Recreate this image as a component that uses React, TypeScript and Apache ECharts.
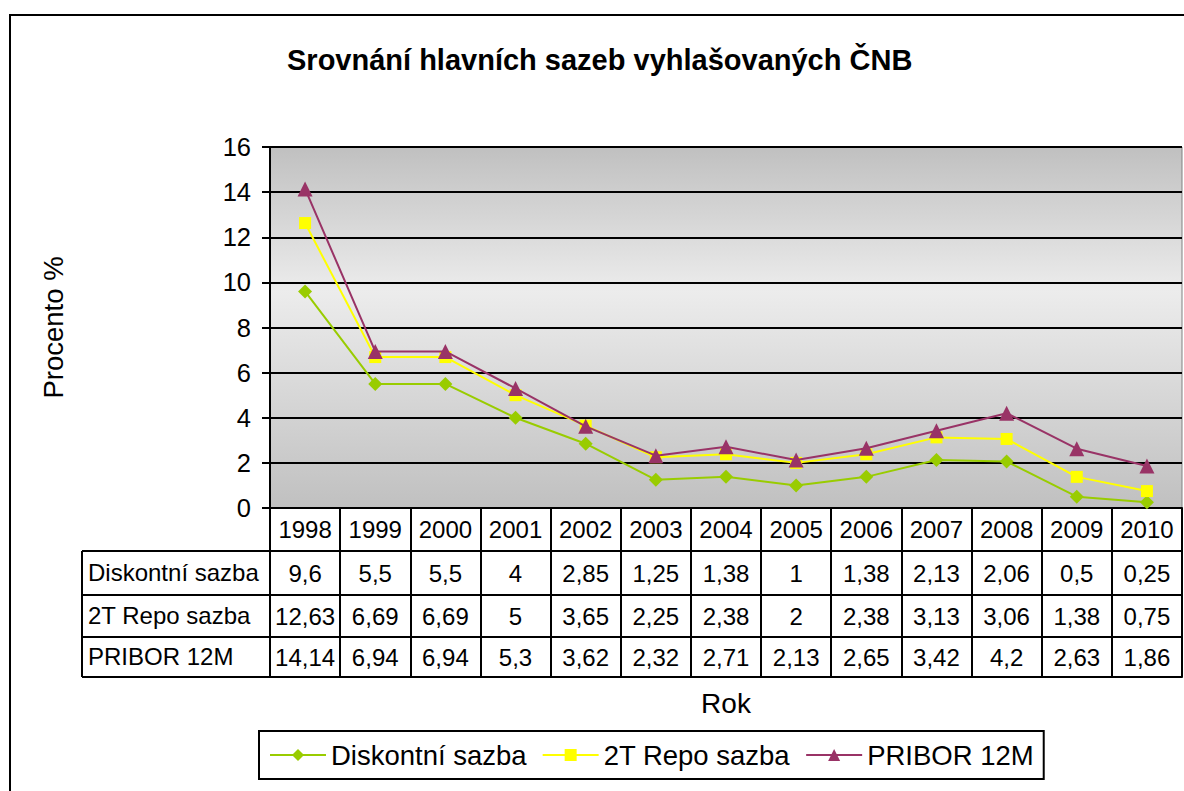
import React, { useEffect, useRef } from "react";
import * as echarts from "echarts";

const years = ["1998", "1999", "2000", "2001", "2002", "2003", "2004", "2005", "2006", "2007", "2008", "2009", "2010"];
const diskontni = [9.6, 5.5, 5.5, 4, 2.85, 1.25, 1.38, 1, 1.38, 2.13, 2.06, 0.5, 0.25];
const repo = [12.63, 6.69, 6.69, 5, 3.65, 2.25, 2.38, 2, 2.38, 3.13, 3.06, 1.38, 0.75];
const pribor = [14.14, 6.94, 6.94, 5.3, 3.62, 2.32, 2.71, 2.13, 2.65, 3.42, 4.2, 2.63, 1.86];
const seriesNames = ["Diskontní sazba", "2T Repo sazba", "PRIBOR 12M"];
const seriesColors = ["#99cc00", "#ffff00", "#993366"];
const seriesSymbols = ["diamond", "rect", "triangle"];
const seriesSizes = [14, 12, 15];
const yMin = 0;
const yMax = 16;
const yInterval = 2;

const FONT = "'Liberation Sans', Arial, sans-serif";
const fmt = (v: number) => String(v).replace(".", ",");

export default function App() {
  const ref = useRef<HTMLDivElement>(null);
  useEffect(() => {
    if (!ref.current) return;
    const chart = echarts.init(ref.current, undefined, { renderer: "svg" });
    const seriesData = [diskontni, repo, pribor];

    const gridLeft = 270;
    const gridRight = 2;
    const gridTop = 147;
    const gridBottomY = 508;
    const rowBottoms = [551, 595, 637, 677];
    const tableLeft = 82;

    const tableAxis = (data: string[], offset: number, margin: number, extra: any = {}) => ({
      type: "category",
      data,
      position: "bottom",
      offset,
      boundaryGap: true,
      axisLine: { show: true, lineStyle: { color: "#000", width: 2 } },
      axisTick: { show: false },
      axisLabel: {
        show: true,
        interval: 0,
        margin,
        verticalAlign: "middle",
        color: "#000",
        fontSize: 24,
        fontFamily: FONT,
      },
      splitLine: { show: false },
      ...extra,
    });

    const rowLabelGraphics: any[] = [];
    const rowCenters = [
      (rowBottoms[0] + rowBottoms[1]) / 2,
      (rowBottoms[1] + rowBottoms[2]) / 2,
      (rowBottoms[2] + rowBottoms[3]) / 2,
    ];
    seriesNames.forEach((n, i) => {
      rowLabelGraphics.push({
        type: "text",
        left: 88,
        top: rowCenters[i] - 13,
        style: { text: n, fill: "#000", font: `24px ${FONT}` },
      });
    });
    rowBottoms.forEach((y) => {
      rowLabelGraphics.push({
        type: "line",
        shape: { x1: tableLeft, y1: y, x2: gridLeft, y2: y },
        style: { stroke: "#000", lineWidth: 2 },
      });
    });
    rowLabelGraphics.push({
      type: "line",
      shape: { x1: tableLeft, y1: rowBottoms[0], x2: tableLeft, y2: rowBottoms[3] },
      style: { stroke: "#000", lineWidth: 2 },
    });
    rowLabelGraphics.push({
      type: "rect",
      shape: { x: 10, y: 15, width: 1200, height: 800 },
      style: { stroke: "#000", lineWidth: 2, fill: "none" },
      silent: true,
    });

    chart.setOption({
      animation: false,
      backgroundColor: "#fff",
      title: {
        text: "Srovnání hlavních sazeb vyhlašovaných ČNB",
        left: 287,
        top: 45,
        padding: 0,
        textStyle: { fontSize: 29, fontWeight: "bold", color: "#000", fontFamily: FONT },
      },
      legend: {
        left: 259,
        top: 731,
        padding: [10, 10],
        itemGap: 15,
        itemWidth: 56,
        itemHeight: 15,
        borderColor: "#000",
        borderWidth: 2,
        borderRadius: 0,
        textStyle: { fontSize: 27.5, color: "#000", fontFamily: FONT },
        data: seriesNames,
      },
      grid: {
        left: gridLeft,
        right: gridRight,
        top: gridTop,
        bottom: 791 - gridBottomY,
        show: true,
        borderColor: "#808080",
        borderWidth: 1,
        backgroundColor: new echarts.graphic.LinearGradient(0, 0, 0, 1, [
          { offset: 0, color: "#c0c0c0" },
          { offset: 0.4, color: "#ececec" },
          { offset: 1, color: "#c0c0c0" },
        ]),
      },
      xAxis: [
        {
          type: "category",
          data: years,
          position: "bottom",
          offset: 0,
          boundaryGap: true,
          axisLine: { show: true, lineStyle: { color: "#000", width: 2 } },
          axisTick: {
            show: true,
            interval: 0,
            length: rowBottoms[3] - gridBottomY,
            lineStyle: { color: "#000", width: 2 },
          },
          axisLabel: {
            show: true,
            interval: 0,
            margin: 21,
            verticalAlign: "middle",
            color: "#000",
            fontSize: 24,
            fontFamily: FONT,
          },
          splitLine: { show: false },
        },
        tableAxis(diskontni.map(fmt), rowBottoms[0] - gridBottomY, 22),
        tableAxis(repo.map(fmt), rowBottoms[1] - gridBottomY, 21),
        tableAxis(pribor.map(fmt), rowBottoms[2] - gridBottomY, 20),
        tableAxis(years.map(() => ""), rowBottoms[3] - gridBottomY, 10, {
          axisLabel: { show: false },
          name: "Rok",
          nameLocation: "middle",
          nameGap: 12,
          nameTextStyle: { fontSize: 28, color: "#000", fontFamily: FONT, verticalAlign: "top" },
        }),
      ],
      yAxis: {
        type: "value",
        min: yMin,
        max: yMax,
        interval: yInterval,
        name: "Procento %",
        nameLocation: "middle",
        nameGap: 203,
        nameRotate: 90,
        nameTextStyle: { fontSize: 27.5, color: "#000", fontFamily: FONT },
        axisLine: { show: true, lineStyle: { color: "#000", width: 2 } },
        axisTick: { show: true, length: 8, lineStyle: { color: "#000", width: 2 } },
        axisLabel: { margin: 19, color: "#000", fontSize: 25.5, fontFamily: FONT },
        splitLine: { show: true, lineStyle: { color: "#000", width: 2 } },
      },
      series: seriesNames.map((name, i) => ({
        name,
        type: "line",
        xAxisIndex: 0,
        data: seriesData[i],
        symbol: seriesSymbols[i],
        symbolSize: seriesSizes[i],
        showSymbol: true,
        itemStyle: { color: seriesColors[i] },
        lineStyle: { color: seriesColors[i], width: 2 },
        z: 3 + i,
      })),
      graphic: rowLabelGraphics,
    });
    return () => chart.dispose();
  }, []);
  return (
    <div
      ref={ref}
      style={{ position: "fixed", left: 0, top: 0, width: 1184, height: 791, background: "#fff" }}
    />
  );
}
